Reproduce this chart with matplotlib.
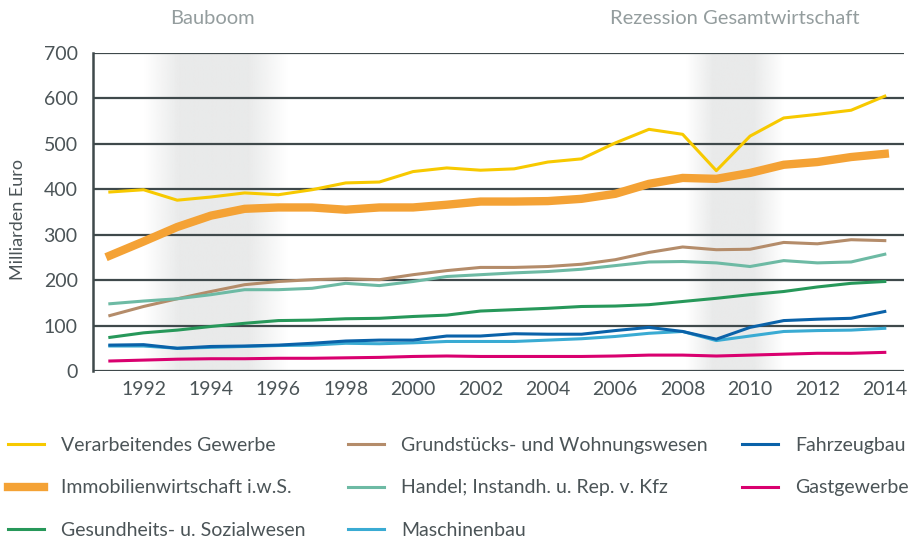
import numpy as np
import matplotlib
matplotlib.use("Agg")
import matplotlib.pyplot as plt
from matplotlib.colors import to_rgb

plt.rcParams['font.family'] = ['Lato', 'DejaVu Sans']

# Daten (Milliarden Euro)
jahre = list(range(1991, 2015))

verarbeitendes = [394, 399, 376, 383, 392, 388, 399, 414, 416, 439, 447, 442,
                  445, 460, 467, 502, 532, 521, 441, 517, 557, 565, 574, 605]
immobilien = [254, 285, 317, 342, 357, 360, 360, 355, 360, 360, 366, 373,
              373, 374, 379, 390, 412, 425, 423, 436, 454, 460, 471, 478]
gesundheit = [74, 84, 90, 98, 105, 111, 112, 115, 116, 120, 123, 132,
              135, 138, 142, 143, 146, 153, 160, 168, 175, 185, 193, 197]
grundstuecke = [122, 142, 159, 175, 190, 197, 201, 203, 201, 212, 221, 228,
                228, 230, 235, 245, 261, 273, 267, 268, 283, 280, 289, 287]
handel = [148, 154, 159, 168, 179, 179, 182, 193, 188, 197, 208, 212,
          216, 219, 224, 232, 240, 241, 238, 230, 243, 238, 240, 257]
maschinenbau = [55, 55, 50, 52, 54, 56, 57, 61, 60, 62, 65, 65,
                65, 68, 71, 76, 83, 87, 67, 77, 87, 89, 90, 94]
fahrzeugbau = [57, 58, 50, 54, 55, 57, 61, 66, 68, 68, 77, 77,
               82, 81, 81, 89, 96, 87, 70, 96, 111, 114, 116, 131]
gastgewerbe = [22, 24, 26, 27, 27, 28, 28, 29, 30, 32, 33, 32,
               32, 32, 32, 33, 35, 35, 33, 35, 37, 39, 39, 41]

reihen = [
    ("Verarbeitendes Gewerbe", verarbeitendes, "#f7c900", 2.2),
    ("Immobilienwirtschaft i.w.S.", immobilien, "#f4a235", 6.0),
    ("Gesundheits- u. Sozialwesen", gesundheit, "#27985a", 2.2),
    ("Grundstücks- und Wohnungswesen", grundstuecke, "#b48c6a", 2.2),
    ("Handel; Instandh. u. Rep. v. Kfz", handel, "#6dbaa4", 2.2),
    ("Maschinenbau", maschinenbau, "#3aabd3", 2.2),
    ("Fahrzeugbau", fahrzeugbau, "#0a62a9", 2.2),
    ("Gastgewerbe", gastgewerbe, "#d9006f", 2.2),
]

# Schattierte Phasen (Start, Ende)
phasen = [(1992.0, 1996.25), (2008.1, 2011.0)]

grau = "#3f494b"
textgrau = "#4b5457"

fig = plt.figure(figsize=(9.2, 5.39), dpi=100)
ax = fig.add_axes([93 / 920, 1 - 371 / 539, (904 - 93) / 920, (371 - 53) / 539])

# Schattierung mit weichen Rändern
shade = np.array(to_rgb("#e9eaea"))
for x0, x1 in phasen:
    n = 200
    t = np.linspace(0, 1, n)
    fade = 0.28 if x1 - x0 < 3.5 else 0.25
    alpha = np.clip(np.minimum(t / fade, (1 - t) / fade * 0.9), 0, 1)
    img = np.zeros((1, n, 4))
    img[0, :, :3] = shade
    img[0, :, 3] = alpha
    ax.imshow(img, extent=[x0, x1, 0, 700], aspect='auto', zorder=0, interpolation='bilinear')

ax.set_xlim(1990.5, 2014.57)
ax.set_ylim(0, 700)

for y in range(0, 701, 100):
    ax.axhline(y, color=grau, lw=1.6, zorder=1)

handles = []
for name, werte, farbe, lw in reihen:
    h, = ax.plot(jahre, werte, color=farbe, lw=lw, label=name, zorder=3,
                 solid_joinstyle='miter' if lw > 3 else 'round')
    handles.append(h)

for s in ['top', 'right', 'bottom']:
    ax.spines[s].set_visible(False)
ax.spines['left'].set_color(grau)
ax.spines['left'].set_linewidth(1.8)

ax.set_yticks(range(0, 701, 100))
ax.set_xticks(range(1992, 2015, 2))
ax.tick_params(axis='both', length=0, labelsize=14, labelcolor=textgrau)
ax.tick_params(axis='y', pad=11)
ax.tick_params(axis='x', pad=7)

fig.text(18 / 920, 1 - 220 / 539, "Milliarden Euro", rotation=90, ha='center', va='center',
         fontsize=13, color=textgrau)

# Beschriftungen der Phasen
fig.text(212 / 920, 1 - 19 / 539, "Bauboom", ha='center', va='center', fontsize=14.5, color="#949d9e")
fig.text(735 / 920, 1 - 19 / 539, "Rezession Gesamtwirtschaft", ha='center', va='center',
         fontsize=14.5, color="#949d9e")

# Legende in drei Spalten
spalten = [(0, 3, 0 / 920), (3, 6, 340 / 920), (6, 8, 734 / 920)]
for a, b, x in spalten:
    leg = fig.legend(handles[a:b], [r[0] for r in reihen[a:b]], loc='upper left',
                     bbox_to_anchor=(x, 1 - 429 / 539), frameon=False, fontsize=14,
                     handlelength=1.85, handletextpad=0.88, labelspacing=1.32, borderaxespad=0)
    for t in leg.get_texts():
        t.set_color(textgrau)

plt.savefig("out.png", dpi=100)
